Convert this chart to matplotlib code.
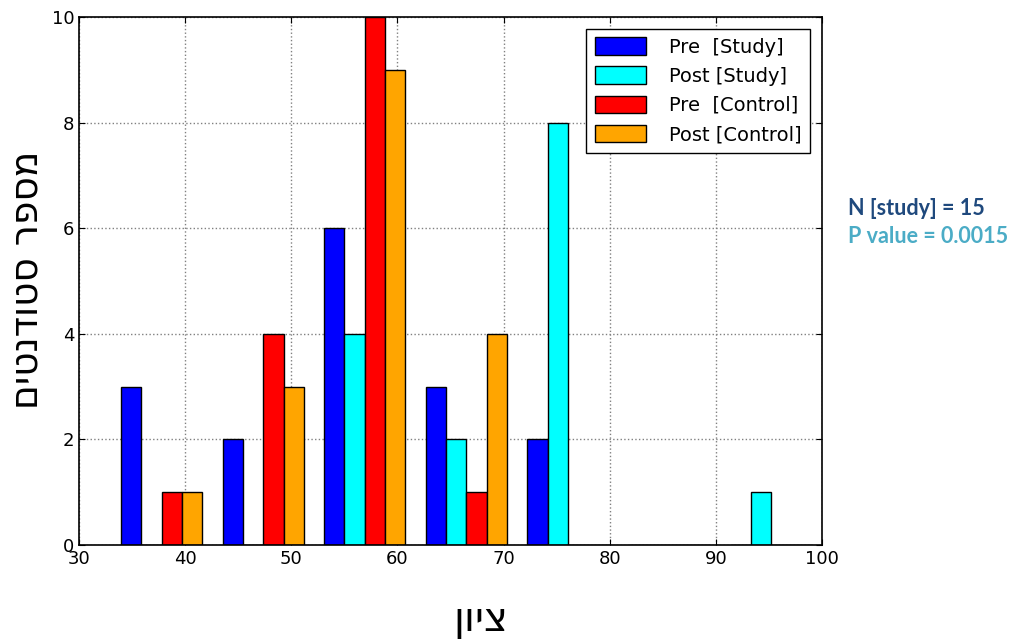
import numpy as np
import matplotlib
matplotlib.use("Agg")
import matplotlib.pyplot as plt

# histogram bins (7 bins between 33 and 100)
bin_lo, bin_hi, n_bins = 33, 100, 7

series_labels = ["Pre  [Study]", "Post [Study]", "Pre  [Control]", "Post [Control]"]
series_colors = ["blue", "cyan", "red", "orange"]

pre_study = [3, 2, 6, 3, 2, 0, 0]
post_study = [0, 0, 4, 2, 8, 0, 1]
pre_control = [1, 4, 10, 1, 0, 0, 0]
post_control = [1, 3, 9, 4, 0, 0, 0]

x_ticks = [30, 40, 50, 60, 70, 80, 90, 100]
y_ticks = [0, 2, 4, 6, 8, 10]

# Hebrew text stored in visual order (matplotlib has no bidi support)
y_label = "מספר סטודנטים"[::-1]
x_label = "ציון"[::-1]

fig = plt.figure(figsize=(10.14, 6.39), dpi=100)
ax = fig.add_axes([0.0779, 0.1471, 0.7327, 0.8263])

edges = np.linspace(bin_lo, bin_hi, n_bins + 1)
w = edges[1] - edges[0]
bw = 0.8 * w / 4
all_counts = [pre_study, post_study, pre_control, post_control]
for i, (counts, lab, col) in enumerate(zip(all_counts, series_labels, series_colors)):
    ax.bar(edges[:-1] + 0.1 * w + i * bw, counts, width=bw, align="edge",
           color=col, edgecolor="black", linewidth=1.0, label=lab, zorder=2)

ax.set_xlim(30, 100)
ax.set_ylim(0, 10)
ax.set_xticks(x_ticks)
ax.set_yticks(y_ticks)
ax.tick_params(direction="in", top=True, right=True, labelsize=13, length=4)
ax.grid(True, linestyle=":", color="gray", linewidth=1.0, zorder=0)
ax.set_axisbelow(True)
for sp in ax.spines.values():
    sp.set_linewidth(1.2)

# axis titles placed by hand so they stay inside the figure
fig.text(0.027, 0.562, y_label, fontsize=27, rotation=90, ha="center", va="center")
fig.text(0.474, 0.03, x_label, fontsize=29, ha="center", va="center")

leg = ax.legend(loc="upper right", fontsize=14, borderaxespad=0.6,
                fancybox=False, framealpha=1, edgecolor="black",
                handlelength=2.6, handleheight=1.0, borderpad=0.45,
                labelspacing=0.5, handletextpad=1.2)
leg.get_frame().set_linewidth(1.0)

fig.text(0.836, 0.674, "N [study] = 15", fontsize=15.5, fontweight="bold",
         color="#1f497d", family=["Lato", "DejaVu Sans"], va="center")
fig.text(0.836, 0.630, "P value = 0.0015", fontsize=15.5, fontweight="bold",
         color="#4bacc6", family=["Lato", "DejaVu Sans"], va="center")

fig.savefig("out.png", dpi=100)
